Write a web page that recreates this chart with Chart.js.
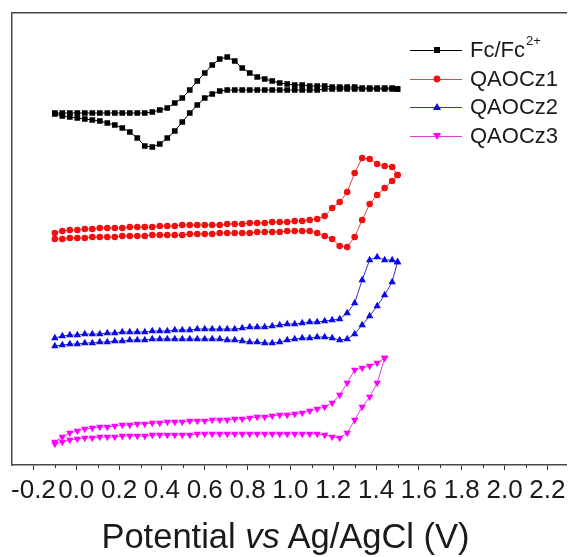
<!DOCTYPE html>
<html><head><meta charset="utf-8">
<script src="https://cdn.jsdelivr.net/npm/chart.js@4.4.1/dist/chart.umd.min.js"></script>
<style>
html,body{margin:0;padding:0;background:#fff;}
#wrap{position:relative;width:571px;height:557px;overflow:hidden;font-family:"Liberation Sans",Arial,sans-serif;color:#1a1a1a;}
#c{position:absolute;left:0;top:0;}
#title{position:absolute;left:0;width:571px;top:516px;text-align:center;font-size:34.5px;line-height:40px;white-space:nowrap;}
.lg{position:absolute;left:410px;height:26px;display:flex;align-items:center;font-size:22px;line-height:26px;white-space:nowrap;}
.lg svg{margin-right:8px;flex:none;}
.lg sup{font-size:13px;line-height:0;position:relative;top:4px;vertical-align:top;margin-left:1px;}
</style></head><body>
<div id="wrap">
<canvas id="c" width="571" height="557"></canvas>
<div id="title">Potential <i>vs</i> Ag/AgCl (V)</div>
<div id="legend"></div>
</div>
<script>
// Potential (V vs Ag/AgCl) sampled along each sweep
const potential = [-0.100, -0.065, -0.030, 0.005, 0.040, 0.075, 0.110, 0.145, 0.180, 0.215, 0.250, 0.285, 0.320, 0.355, 0.390, 0.425, 0.460, 0.495, 0.530, 0.565, 0.600, 0.635, 0.670, 0.705, 0.740, 0.775, 0.810, 0.845, 0.880, 0.915, 0.950, 0.985, 1.020, 1.055, 1.090, 1.125, 1.160, 1.195, 1.230, 1.265, 1.300, 1.335, 1.370, 1.405, 1.440, 1.475, 1.500];

// Current (a.u., curves offset) on the increasing-potential sweep
const fcFwd = [35.2, 35.2, 35.2, 35.2, 35.2, 35.2, 35.2, 35.2, 35.2, 35.2, 35.2, 35.2, 35.2, 35.3, 35.5, 35.7, 36.2, 36.7, 37.5, 38.4, 39.2, 40.0, 40.6, 40.8, 40.4, 39.7, 39.2, 38.8, 38.6, 38.4, 38.2, 38.1, 38.0, 38.0, 37.9, 37.9, 37.9, 37.8, 37.8, 37.8, 37.8, 37.7, 37.7, 37.7, 37.7, 37.7, 37.6];
// Current on the decreasing-potential sweep (listed at the same potentials, ascending)
const fcRev = [35.1, 34.9, 34.8, 34.7, 34.6, 34.5, 34.4, 34.2, 34.0, 33.7, 33.3, 32.7, 31.9, 31.8, 32.1, 32.7, 33.4, 34.3, 35.2, 36.0, 36.7, 37.1, 37.4, 37.5, 37.5, 37.5, 37.5, 37.5, 37.5, 37.5, 37.5, 37.5, 37.5, 37.5, 37.5, 37.5, 37.6, 37.6, 37.6, 37.6, 37.6, 37.6, 37.6, 37.6, 37.6, 37.6, 37.6];

const z1Fwd = [23.2, 23.4, 23.5, 23.5, 23.6, 23.6, 23.7, 23.7, 23.7, 23.7, 23.8, 23.8, 23.8, 23.8, 23.9, 23.9, 23.9, 24.0, 24.0, 24.0, 24.0, 24.0, 24.0, 24.1, 24.1, 24.1, 24.2, 24.2, 24.2, 24.3, 24.3, 24.3, 24.4, 24.4, 24.5, 24.6, 24.9, 25.7, 26.3, 27.3, 29.2, 30.7, 30.6, 30.1, 29.9, 29.8, 29.0];
const z1Rev = [22.6, 22.6, 22.7, 22.7, 22.7, 22.8, 22.8, 22.8, 22.8, 22.9, 22.9, 22.9, 22.9, 23.0, 23.0, 23.0, 23.0, 23.0, 23.1, 23.1, 23.1, 23.1, 23.2, 23.2, 23.2, 23.2, 23.2, 23.3, 23.3, 23.3, 23.3, 23.4, 23.4, 23.4, 23.4, 23.2, 22.9, 22.6, 21.9, 21.8, 22.8, 24.5, 26.1, 27.0, 27.7, 28.4, 29.0];

const z2Fwd = [12.7, 12.9, 13.0, 13.0, 13.1, 13.1, 13.1, 13.2, 13.2, 13.3, 13.3, 13.3, 13.3, 13.4, 13.4, 13.4, 13.5, 13.5, 13.5, 13.6, 13.6, 13.6, 13.6, 13.6, 13.6, 13.7, 13.8, 13.8, 13.8, 13.9, 14.0, 14.1, 14.1, 14.2, 14.3, 14.3, 14.4, 14.5, 14.6, 15.2, 16.2, 18.5, 20.5, 20.8, 20.5, 20.5, 20.3];
const z2Rev = [11.9, 12.0, 12.1, 12.1, 12.2, 12.2, 12.3, 12.3, 12.4, 12.4, 12.5, 12.5, 12.5, 12.6, 12.6, 12.6, 12.6, 12.6, 12.6, 12.6, 12.6, 12.6, 12.6, 12.5, 12.5, 12.4, 12.3, 12.3, 12.2, 12.2, 12.3, 12.5, 12.6, 12.7, 12.7, 12.8, 12.8, 12.7, 12.5, 12.6, 13.1, 14.0, 14.9, 15.9, 17.0, 18.3, 20.3];

// QAOCz3 sweeps only up to 1.44 V (first 45 potentials)
const z3Fwd = [2.1, 2.3, 2.5, 2.6, 2.7, 2.7, 2.8, 2.8, 2.8, 2.9, 2.9, 2.9, 2.9, 3.0, 3.0, 3.0, 3.0, 3.0, 3.0, 3.1, 3.1, 3.1, 3.1, 3.1, 3.1, 3.1, 3.1, 3.1, 3.1, 3.1, 3.1, 3.1, 3.1, 3.1, 3.1, 3.1, 3.0, 2.8, 2.7, 3.2, 4.5, 5.8, 6.8, 8.2, 10.7];
const z3Rev = [2.3, 2.8, 3.2, 3.4, 3.6, 3.7, 3.8, 3.8, 3.9, 4.0, 4.0, 4.1, 4.1, 4.2, 4.2, 4.3, 4.3, 4.3, 4.4, 4.4, 4.4, 4.5, 4.5, 4.5, 4.6, 4.6, 4.7, 4.8, 4.8, 4.9, 5.0, 5.0, 5.1, 5.2, 5.4, 5.6, 5.8, 6.2, 7.0, 8.2, 9.5, 9.7, 9.9, 10.2, 10.7];

const seriesNames = ['Fc/Fc2+', 'QAOCz1', 'QAOCz2', 'QAOCz3'];
const tickValues = [-0.2, 0.0, 0.2, 0.4, 0.6, 0.8, 1.0, 1.2, 1.4, 1.6, 1.8, 2.0, 2.2];
const minorTickValues = [-0.1, 0.1, 0.3, 0.5, 0.7, 0.9, 1.1, 1.3, 1.5, 1.7, 1.9, 2.1];

function loop(pot, fwd, rev) {
  const a = fwd.map((y, i) => ({x: pot[i], y}));
  const b = rev.map((y, i) => ({x: pot[i], y})).reverse();
  return a.concat(b);
}

const styles = [
  {line: '#000000', point: '#000000', shape: 'rect', r: 4.0, rot: 0},
  {line: '#d84848', point: '#f01010', shape: 'circle', r: 3.3, rot: 0},
  {line: '#3232b8', point: '#0a0ae6', shape: 'triangle', r: 4.3, rot: 0},
  {line: '#dc40dc', point: '#ff00ff', shape: 'triangle', r: 4.3, rot: 180}
];
const dataLoops = [
  loop(potential, fcFwd, fcRev),
  loop(potential, z1Fwd, z1Rev),
  loop(potential, z2Fwd, z2Rev),
  loop(potential.slice(0, z3Fwd.length), z3Fwd, z3Rev)
];

const datasets = dataLoops.map((d, i) => ({
  label: seriesNames[i],
  data: d,
  showLine: true,
  borderColor: styles[i].line,
  borderWidth: 1,
  pointStyle: styles[i].shape,
  pointRotation: styles[i].rot,
  pointRadius: styles[i].r,
  pointBackgroundColor: styles[i].point,
  pointBorderColor: styles[i].point,
  pointBorderWidth: 0,
  tension: 0
}));

const axisColor = '#4a4a4a';
const minorTicks = {
  id: 'minorTicks',
  afterDraw(chart) {
    const s = chart.scales.x, ctx = chart.ctx;
    ctx.save();
    ctx.strokeStyle = '#333';
    ctx.lineWidth = 1;
    ctx.beginPath();
    minorTickValues.forEach(v => {
      const px = Math.round(s.getPixelForValue(v)) + 0.5;
      ctx.moveTo(px, s.top);
      ctx.lineTo(px, s.top + 3);
    });
    ctx.stroke();
    ctx.restore();
  }
};

new Chart(document.getElementById('c'), {
  type: 'scatter',
  data: {datasets},
  options: {
    responsive: false,
    animation: false,
    devicePixelRatio: 1,
    layout: {padding: 0},
    plugins: {legend: {display: false}, tooltip: {enabled: false}},
    scales: {
      x: {
        type: 'linear', position: 'bottom', min: -0.3, max: 2.29,
        afterFit: s => { s.height = 92; },
        afterBuildTicks: s => { s.ticks = tickValues.map(v => ({value: v})); },
        grid: {display: true, drawOnChartArea: false, drawTicks: true, tickLength: 5, tickColor: '#333', tickWidth: 1},
        border: {display: true, color: axisColor, width: 1.5},
        ticks: {
          autoSkip: false, maxRotation: 0, minRotation: 0, padding: 5, color: '#1a1a1a',
          font: {family: '"Liberation Sans", Arial, sans-serif', size: 26},
          callback: v => Number(v).toFixed(1)
        }
      },
      xTop: {
        type: 'linear', position: 'top', min: -0.3, max: 2.29,
        afterFit: s => { s.height = 13; },
        ticks: {display: false}, grid: {display: false},
        border: {display: true, color: axisColor, width: 1.5}
      },
      y: {
        type: 'linear', position: 'left', min: 0, max: 45.2,
        afterFit: s => { s.width = 12; },
        ticks: {display: false}, grid: {display: false},
        border: {display: true, color: axisColor, width: 1.5}
      }
    }
  },
  plugins: [minorTicks]
});

// Legend (HTML)
const legendRows = [49.5, 78.5, 107, 135.5];
const legendHTML = seriesNames.map((name, i) => {
  const st = styles[i];
  let marker = '';
  const cx = 27, cy = 13;
  if (st.shape === 'rect') marker = `<rect x="${cx-3}" y="${cy-3}" width="6" height="6" fill="${st.point}"/>`;
  else if (st.shape === 'circle') marker = `<circle cx="${cx}" cy="${cy}" r="3.4" fill="${st.point}"/>`;
  else if (st.rot === 0) marker = `<polygon points="${cx},${cy-4} ${cx+4},${cy+3} ${cx-4},${cy+3}" fill="${st.point}"/>`;
  else marker = `<polygon points="${cx},${cy+4} ${cx+4},${cy-3} ${cx-4},${cy-3}" fill="${st.point}"/>`;
  const label = name === 'Fc/Fc2+' ? 'Fc/Fc<sup>2+</sup>' : name;
  return `<div class="lg" style="top:${legendRows[i]-13}px"><svg width="52" height="26"><line x1="0" y1="13.5" x2="52" y2="13.5" stroke="${st.line}" stroke-width="1"/>${marker}</svg><span>${label}</span></div>`;
}).join('');
document.getElementById('legend').innerHTML = legendHTML;
</script>
</body></html>
